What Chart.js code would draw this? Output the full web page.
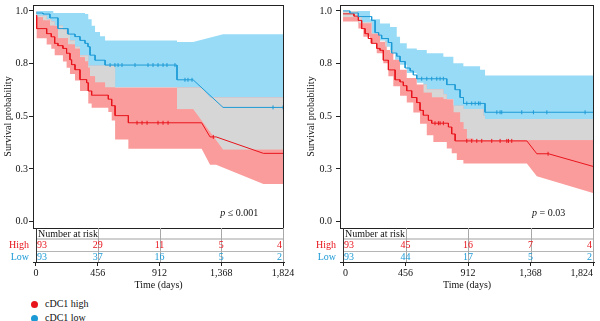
<!DOCTYPE html>
<html>
<head>
<meta charset="utf-8">
<script src="https://cdn.jsdelivr.net/npm/chart.js@4.4.1/dist/chart.umd.min.js"></script>
<style>
  body { margin: 0; width: 600px; height: 321px; overflow: hidden; background: #fff; position: relative;
         font-family: 'Liberation Serif', 'DejaVu Serif', serif; }
  .panel { position: absolute; top: 0; }
  #legend { position: absolute; left: 31px; top: 297px; font-size: 10px; color: #111; line-height: 14px; }
  #legend .dot { display: inline-block; width: 7px; height: 7px; border-radius: 50%; margin-right: 7px; vertical-align: -1px; }
</style>
</head>
<body>
<canvas id="kmLeft" class="panel" style="left:0" width="300" height="292"></canvas>
<canvas id="kmRight" class="panel" style="left:300px" width="300" height="292"></canvas>
<div id="legend"></div>
<script>
const groups = ['cDC1 high', 'cDC1 low'];
const xTicks = [0, 456, 912, 1368, 1824];
const yTicks = [0, 0.25, 0.5, 0.75, 1];
const yTickLabels = ['0.0', '0.3', '0.5', '0.8', '1.0'];

// curves are [day, survival]; a third entry of 1 joins straight from the previous point instead of stepping
// left panel
const highLeft = [[0,0.978],[5,0.916],[79,0.892],[113,0.877],[138,0.846],[162,0.835],[199,0.822],[226,0.799],[251,0.768],[263,0.745],[288,0.721],[325,0.674],[374,0.659],[386,0.62],[411,0.6],[534,0.581],[559,0.55],[584,0.503],[682,0.469],[1223,0.469],[1285,0.402,1],[1330,0.402],[1679,0.324,1],[1824,0.324]];
const lowLeft = [[0,0.99],[52,0.985],[103,0.967],[162,0.916],[236,0.89],[288,0.878],[325,0.86],[362,0.846],[384,0.83],[399,0.79],[436,0.766],[510,0.743],[1041,0.673],[1160,0.673],[1381,0.542,1],[1824,0.542]];
const highLeftUpper = [[0,1],[5,0.977],[79,0.96],[113,0.95],[138,0.93],[199,0.91],[226,0.89],[251,0.86],[288,0.83],[325,0.79],[386,0.74],[584,0.636],[1223,0.636],[1285,0.589,1],[1824,0.589]];
const highLeftLower = [[0,0.96],[5,0.87],[79,0.84],[113,0.82],[138,0.79],[199,0.76],[226,0.73],[251,0.7],[288,0.67],[325,0.62],[386,0.56],[411,0.54],[534,0.52],[559,0.48],[584,0.39],[682,0.346],[1223,0.346],[1285,0.27,1],[1330,0.27],[1679,0.178,1],[1824,0.178]];
const lowLeftUpper = [[0,1],[128,0.99],[362,0.985],[386,0.96],[411,0.93],[436,0.9],[473,0.88],[510,0.86],[1041,0.853],[1160,0.853],[1381,0.889,1],[1824,0.889]];
const lowLeftLower = [[0,0.97],[52,0.955],[103,0.93],[162,0.87],[236,0.84],[288,0.82],[325,0.78],[362,0.76],[384,0.73],[399,0.69],[436,0.66],[510,0.636],[1041,0.533],[1160,0.533],[1381,0.341,1],[1824,0.341]];
const censorHighLeft = [746,783,820,901,938,975,1309];
const censorLowLeft = [547,583,606,635,731,827,864,901,938,967,1026,1100,1122,1152,1750,1824];
const riskHighLeft = [93, 29, 11, 5, 4];
const riskLowLeft = [93, 37, 16, 5, 2];

// right panel
const highRight = [[0,0.986],[80,0.975],[112,0.955],[136,0.916],[161,0.892],[185,0.869],[209,0.846],[246,0.822],[270,0.813],[294,0.766],[331,0.72],[380,0.673],[416,0.663],[440,0.645],[465,0.621],[501,0.589],[538,0.565],[562,0.528],[586,0.505],[623,0.481],[647,0.467],[769,0.449],[793,0.416],[818,0.383],[1341,0.383],[1414,0.322,1],[1499,0.322],[1824,0.262,1]];
const lowRight = [[0,1],[50,0.99],[112,0.973],[209,0.955],[234,0.897],[260,0.885],[282,0.869],[331,0.85],[355,0.8],[392,0.785],[416,0.76],[453,0.729],[490,0.715],[513,0.696],[538,0.678],[757,0.65],[818,0.626],[854,0.589],[879,0.561],[1036,0.519],[1824,0.519]];
const highRightUpper = [[0,1],[104,0.975],[136,0.947],[209,0.893],[270,0.854],[319,0.815],[367,0.768],[416,0.721],[465,0.682],[538,0.651],[611,0.628],[732,0.604],[757,0.581],[805,0.55],[878,0.534],[1024,0.503],[1036,0.487],[1824,0.487]];
const highRightLower = [[0,0.95],[112,0.916],[148,0.877],[197,0.846],[246,0.799],[294,0.752],[331,0.69],[367,0.643],[416,0.597],[465,0.565],[513,0.518],[562,0.464],[611,0.41],[659,0.378],[757,0.347],[793,0.324],[830,0.293],[878,0.276],[1341,0.276],[1414,0.215,1],[1824,0.136,1]];
const lowRightUpper = [[0,1],[197,0.96],[270,0.94],[343,0.924],[392,0.877],[416,0.846],[465,0.822],[538,0.815],[611,0.799],[732,0.783],[805,0.752],[878,0.737],[1000,0.721],[1036,0.693],[1824,0.693]];
const lowRightLower = [[0,0.97],[112,0.94],[209,0.89],[270,0.86],[307,0.83],[343,0.8],[380,0.768],[416,0.745],[465,0.705],[538,0.659],[586,0.612],[647,0.589],[732,0.581],[805,0.518],[854,0.472],[878,0.44],[903,0.393],[951,0.386],[1824,0.386]];
const censorHighRight = [671,696,708,732,903,939,976,1012,1085,1146,1195,1207,1231,1496];
const censorLowRight = [574,611,647,684,708,732,903,939,964,988,1000,1122,1146,1158,1304,1389,1487,1766];
const riskHighRight = [93, 45, 16, 7, 4];
const riskLowRight = [93, 44, 17, 5, 2];

const RED = '#e8141c', BLUE = '#1c9ad6';
const RED_BAND = '#fb9c9c', BLUE_BAND = '#98dbf6', OVERLAP = '#d6d6d6';

Chart.defaults.font.family = "'Liberation Serif', 'DejaVu Serif', serif";
Chart.defaults.font.size = 10;
Chart.defaults.color = '#111';

function path(pts) {
  const out = [];
  pts.forEach((p, i) => {
    if (i > 0 && !p[2]) out.push({x: p[0], y: out[out.length - 1].y});
    out.push({x: p[0], y: p[1]});
  });
  return out;
}

function valueAt(v, t) {
  let i = 0;
  while (i < v.length - 1 && v[i + 1].x <= t) i++;
  const a = v[i], b = v[i + 1];
  if (!b || b.x === a.x) return a.y;
  return a.y + (b.y - a.y) * (t - a.x) / (b.x - a.x);
}

function band(data, color, fill, order) {
  return {data: path(data), borderWidth: 0, borderColor: 'transparent', backgroundColor: color, fill: fill, order: order};
}

function censors(times, curve, color) {
  return {
    data: times.map(t => ({x: t, y: valueAt(curve, t)})),
    showLine: false, pointStyle: 'line', pointRotation: 90, pointRadius: 2,
    pointBorderColor: color, pointBorderWidth: 1, order: 0
  };
}

function panel(id, high, low, highUp, highLo, lowUp, lowLo, cHigh, cLow, riskHigh, riskLow, pText, axisW, titleX, tickAlign) {
  const highPath = path(high), lowPath = path(low);

  const table = {
    id: 'riskTable',
    afterDraw(chart) {
      const {ctx, chartArea: a, scales: {x, y}} = chart;
      const y0 = y.getPixelForValue(0);
      const top = Math.round(y0) + 6, line1 = top + 11, line2 = top + 23, bottom = a.bottom;
      ctx.save();
      ctx.lineWidth = 1;
      ctx.strokeStyle = '#222';
      ctx.strokeRect(a.left + 0.5, a.top + 0.5, a.width - 1, top - a.top);

      // number-at-risk grid
      ctx.strokeStyle = '#d0d0d0';
      ctx.lineWidth = 2;
      ctx.beginPath(); ctx.moveTo(x.getPixelForValue(0), line1); ctx.lineTo(a.right, line1); ctx.stroke();
      ctx.lineWidth = 1;
      ctx.strokeStyle = '#b5b5b5';
      ctx.beginPath(); ctx.moveTo(x.getPixelForValue(0), line2 + 0.5); ctx.lineTo(a.right, line2 + 0.5); ctx.stroke();
      xTicks.forEach((t, i) => {
        const px = Math.round(x.getPixelForValue(t)) + 0.5;
        ctx.strokeStyle = i === 0 ? '#333' : '#a8a8a8';
        ctx.beginPath(); ctx.moveTo(px, top); ctx.lineTo(px, bottom); ctx.stroke();
      });

      ctx.font = "10px 'Liberation Serif', serif";
      ctx.textBaseline = 'middle';
      ctx.fillStyle = '#111';
      ctx.textAlign = 'left';
      ctx.fillText('Number at risk', x.getPixelForValue(0) + 2, top + 6);

      ctx.textAlign = 'right';
      ctx.fillStyle = RED; ctx.fillText('High', a.left - 4, line1 + 6);
      ctx.fillStyle = BLUE; ctx.fillText('Low', a.left - 4, line2 + 6);

      [[riskHigh, RED, line1 + 6], [riskLow, BLUE, line2 + 6]].forEach(([row, color, cy]) => {
        ctx.fillStyle = color;
        row.forEach((n, i) => {
          ctx.textAlign = i === 0 ? 'left' : i === row.length - 1 ? 'right' : 'center';
          const px = x.getPixelForValue(xTicks[i]) + (i === 0 ? 1 : i === row.length - 1 ? -1 : 0);
          ctx.fillText(String(n), px, cy);
        });
      });

      // p-value
      ctx.fillStyle = '#111';
      ctx.font = "italic 10px 'Liberation Serif', serif";
      const pw = ctx.measureText('p ').width;
      ctx.font = "10px 'Liberation Serif', serif";
      const rw = ctx.measureText(pText).width;
      const cx = x.getPixelForValue(1500) - (pw + rw) / 2;
      ctx.textAlign = 'left';
      ctx.font = "italic 10px 'Liberation Serif', serif";
      ctx.fillText('p', cx, y0 - 8);
      ctx.font = "10px 'Liberation Serif', serif";
      ctx.fillText(pText, cx + pw, y0 - 8);

      // y axis title
      ctx.translate(titleX, (a.top + top) / 2);
      ctx.rotate(-Math.PI / 2);
      ctx.textAlign = 'center';
      ctx.fillText('Survival probability', 0, 0);
      ctx.restore();
    }
  };

  return new Chart(document.getElementById(id), {
    type: 'line',
    data: {
      datasets: [
        {label: groups[1], data: lowPath, borderColor: BLUE, borderWidth: 1, order: 1},
        {label: groups[0], data: highPath, borderColor: RED, borderWidth: 1, order: 1},
        band(lowUp, BLUE_BAND, 3, 7),
        band(lowLo, 'transparent', false, 9),
        band(highUp, RED_BAND, 5, 6),
        band(highLo, 'transparent', false, 9),
        band(highUp, OVERLAP, {target: 3, above: OVERLAP, below: 'rgba(0,0,0,0)'}, 5),
        censors(cLow, lowPath, BLUE),
        censors(cHigh, highPath, RED)
      ]
    },
    options: {
      responsive: false,
      animation: false,
      layout: {padding: {top: 1, right: 300 - axisW - 251 - (axisW === 33 ? 0 : 3), left: 0, bottom: 0}},
      elements: {point: {radius: 0}, line: {tension: 0}},
      plugins: {legend: {display: false}, tooltip: {enabled: false}},
      scales: {
        x: {
          type: 'linear', min: -22, max: 1831,
          afterBuildTicks: s => { s.ticks = xTicks.map(v => ({value: v})); },
          afterFit: s => { s.height = 30; s.paddingLeft = 0; s.paddingRight = 0; },
          ticks: {autoSkip: false, maxRotation: 0, padding: 1, color: '#111', align: tickAlign,
                  callback: v => v.toLocaleString('en-US')},
          grid: {drawOnChartArea: false, tickLength: 4, color: '#222'},
          border: {display: true, color: '#222'},
          title: {display: true, text: 'Time (days)', color: '#111', padding: {top: 0, bottom: 1}}
        },
        y: {
          type: 'linear', min: -0.1916, max: 1.028,
          afterBuildTicks: s => { s.ticks = yTicks.map(v => ({value: v})); },
          afterFit: s => { s.width = axisW; s.paddingTop = 0; s.paddingBottom = 0; },
          ticks: {autoSkip: false, padding: axisW === 33 ? 1 : 4, color: '#111',
                  callback: (v, i) => yTickLabels[i]},
          grid: {drawOnChartArea: false, tickLength: 4, color: '#222'},
          border: {display: false}
        }
      }
    },
    plugins: [table]
  });
}

panel('kmLeft', highLeft, lowLeft, highLeftUpper, highLeftLower, lowLeftUpper, lowLeftLower,
      censorHighLeft, censorLowLeft, riskHighLeft, riskLowLeft, '\u2264 0.001', 33, 8, 'center');
panel('kmRight', highRight, lowRight, highRightUpper, highRightLower, lowRightUpper, lowRightLower,
      censorHighRight, censorLowRight, riskHighRight, riskLowRight, '= 0.03', 40, 11, 'inner');

const legend = document.getElementById('legend');
[[groups[0], RED], [groups[1], BLUE]].forEach(([name, color]) => {
  const row = document.createElement('div');
  row.innerHTML = '<span class="dot" style="background:' + color + '"></span>' + name;
  legend.appendChild(row);
});
</script>
</body>
</html>
